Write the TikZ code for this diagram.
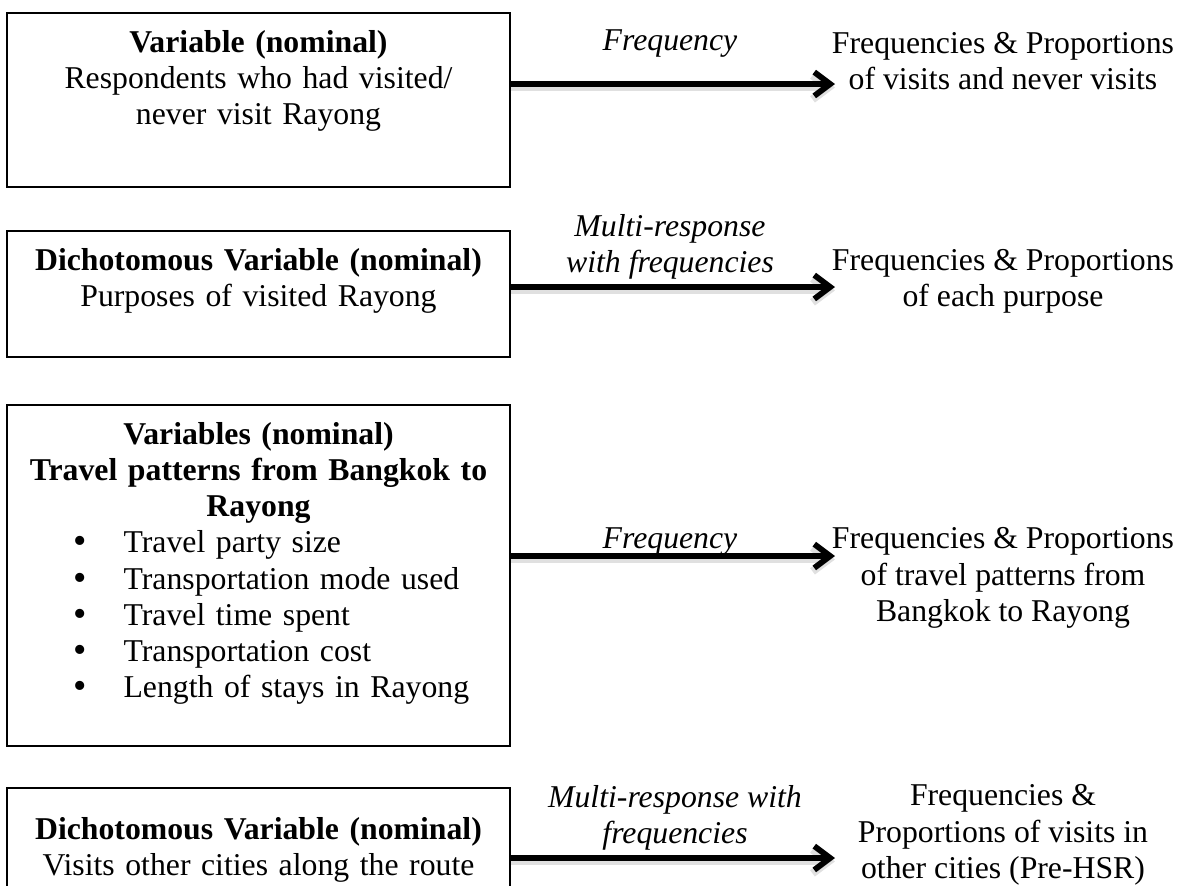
\documentclass[tikz,border=0pt]{standalone}
\usepackage{fontspec}
\setmainfont{Liberation Serif}
\usetikzlibrary{arrows.meta}
\newcommand{\bulletline}[1]{\makebox[190pt][l]{\hspace*{25pt}\makebox[19pt][l]{\raisebox{-0.4pt}{\scalebox{1.2}{\textbullet}}}#1}}
\begin{document}
\begin{tikzpicture}[x=0.378pt, y=-0.378pt,
  every node/.style={font=\fontsize{12}{13.7}\selectfont},
  varbox/.style={draw, line width=0.8pt, anchor=north, text width=190pt, inner xsep=0pt, inner ysep=6.4pt, align=center},
  lbl/.style={font=\fontsize{12}{13.7}\selectfont\itshape, align=center, inner sep=0pt},
  outcome/.style={align=center, inner sep=0pt},
  flow/.style={line width=2.2pt, -{Straight Barb[length=6pt,width=9pt]},
    preaction={draw=black!12, line width=3pt, transform canvas={yshift=-1.3pt}}}]
\useasboundingbox (0,0) rectangle (1183,885);
\clip (0,0) rectangle (1183,885);
% variable boxes
\node[varbox, text depth=44.7pt] (v1) at (258.5,12) {\textbf{Variable (nominal)}\\Respondents who had visited/\\never visit Rayong};
\node[varbox, text depth=26.5pt] (v2) at (258.5,230) {\textbf{Dichotomous Variable (nominal)}\\Purposes of visited Rayong};
\node[varbox, text depth=107.8pt] (v3) at (258.5,404) {\textbf{Variables (nominal)}\\\textbf{Travel patterns from Bangkok to}\\\textbf{Rayong}\\
  \bulletline{Travel party size}\\\bulletline{Transportation mode used}\\\bulletline{Travel time spent}\\
  \bulletline{Transportation cost}\\\bulletline{Length of stays in Rayong}};
\node[varbox, inner ysep=11pt, text depth=60pt] (v4) at (258.5,787) {\textbf{Dichotomous Variable (nominal)}\\Visits other cities along the route};
% methods
\node[lbl] (f1) at (670,44) {Frequency};
\node[lbl] (f2) at (670,247) {Multi-response\\with frequencies};
\node[lbl] (f3) at (670,542) {Frequency};
\node[lbl] (f4) at (675,818) {Multi-response with\\frequencies};
% outcomes
\node[outcome] (r1) at (1003,61) {Frequencies \& Proportions\\of visits and never visits};
\node[outcome] (r2) at (1003,281) {Frequencies \& Proportions\\of each purpose};
\node[outcome] (r3) at (1003,578) {Frequencies \& Proportions\\of travel patterns from\\Bangkok to Rayong};
\node[outcome] (r4) at (1003,835) {Frequencies \&\\Proportions of visits in\\other cities (Pre-HSR)};
% arrows
\coordinate (a1) at (835,84);
\coordinate (a2) at (835,287);
\coordinate (a3) at (835,556);
\coordinate (a4) at (835,858);
\draw[flow] (v1.east |- a1) -- (a1);
\draw[flow] (v2.east |- a2) -- (a2);
\draw[flow] (v3.east |- a3) -- (a3);
\draw[flow] (v4.east |- a4) -- (a4);
\end{tikzpicture}
\end{document}
